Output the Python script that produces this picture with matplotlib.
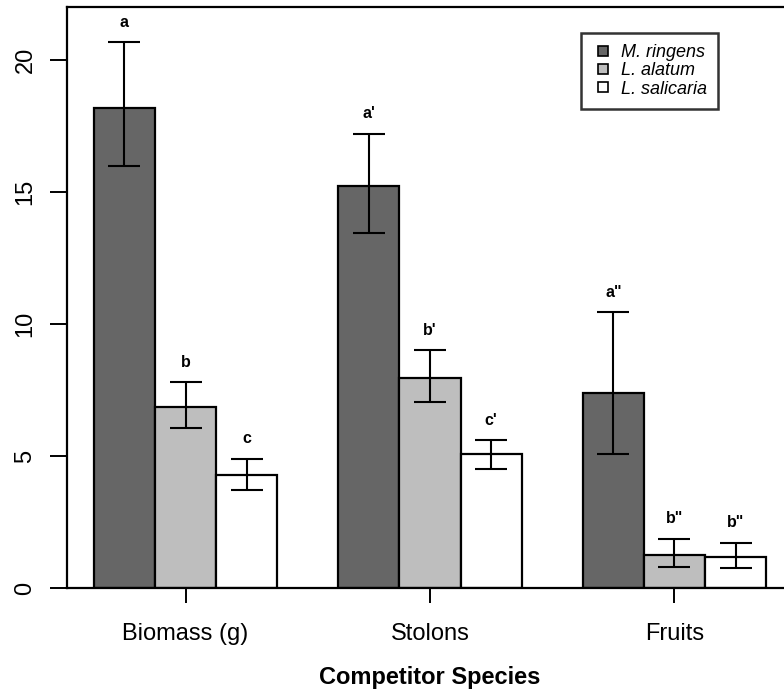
import matplotlib
matplotlib.use("Agg")
import matplotlib.pyplot as plt
from matplotlib.lines import Line2D
import numpy as np

plt.rcParams['font.family'] = ['Liberation Sans', 'DejaVu Sans']

categories = ["Biomass (g)", "Stolons", "Fruits"]
species = ["M. ringens", "L. alatum", "L. salicaria"]
colors = ["#666666", "#BEBEBE", "#FFFFFF"]

means = {
    "M. ringens":   [18.19, 15.23, 7.40],
    "L. alatum":    [6.87, 7.95, 1.26],
    "L. salicaria": [4.29, 5.07, 1.20],
}
err_low = {
    "M. ringens":   [15.98, 13.47, 5.07],
    "L. alatum":    [6.06, 7.04, 0.82],
    "L. salicaria": [3.71, 4.53, 0.76],
}
err_high = {
    "M. ringens":   [20.68, 17.21, 10.45],
    "L. alatum":    [7.80, 9.01, 1.88],
    "L. salicaria": [4.91, 5.60, 1.73],
}
letters = {
    "M. ringens":   ["a", "a'", 'a"'],
    "L. alatum":    ["b", "b'", 'b"'],
    "L. salicaria": ["c", "c'", 'b"'],
}

W, H = 784, 694
fig = plt.figure(figsize=(W/100, H/100), dpi=100)
left, right, top, bottom = 67, 793, 7.3, 588.3
ax = fig.add_axes([left/W, 1-bottom/H, (right-left)/W, (bottom-top)/H])

n_cat = len(categories)
n_sp = len(species)
handles = []
for j, sp in enumerate(species):
    xs = [1 + i*(n_sp+1) + j + 0.5 for i in range(n_cat)]
    m = np.array(means[sp])
    lo = np.array(err_low[sp])
    hi = np.array(err_high[sp])
    ax.bar(xs, m, width=1.0, color=colors[j], edgecolor="black", linewidth=1.6,
           zorder=2)
    ax.errorbar(xs, m, yerr=[m-lo, hi-m], fmt="none", ecolor="black",
                elinewidth=1.5, capsize=11.5, capthick=1.5, zorder=3)
    for x, h, t in zip(xs, hi, letters[sp]):
        ax.text(x, h + 0.75, t, ha="center", va="center", fontsize=11.5,
                fontweight="bold", zorder=4)
    handles.append(Line2D([], [], marker="s", linestyle="none", markersize=6.5,
                          markerfacecolor=colors[j], markeredgecolor="black",
                          markeredgewidth=1.2, label=sp))

ax.set_xlim(0.56, 12.44)
ax.set_ylim(0, 22)
centers = [1 + i*(n_sp+1) + 1.5 for i in range(n_cat)]
ax.set_xticks(centers)
ax.set_xticklabels(categories, fontsize=17)
ax.set_yticks([0, 5, 10, 15, 20])
ax.set_yticklabels(["0", "5", "10", "15", "20"], fontsize=17, rotation=90,
                   va="center")
ax.tick_params(axis="x", length=11, width=1.4, pad=14)
ax.tick_params(axis="y", length=12, width=1.4, pad=10)
for s in ax.spines.values():
    s.set_linewidth(1.6)
ax.set_xlabel("Competitor Species", fontsize=17, fontweight="bold", labelpad=15)

leg = ax.legend(handles=handles, loc="upper left",
                bbox_to_anchor=((581-left)/(right-left), 1-(33-top)/(bottom-top)),
                prop={"style": "italic", "size": 13}, frameon=True, fancybox=False,
                edgecolor="black", handlelength=1.2, handletextpad=0.4,
                borderpad=0.62, labelspacing=0.07, borderaxespad=0)
leg.get_frame().set_linewidth(1.8)

fig.savefig("out.png", dpi=100)
